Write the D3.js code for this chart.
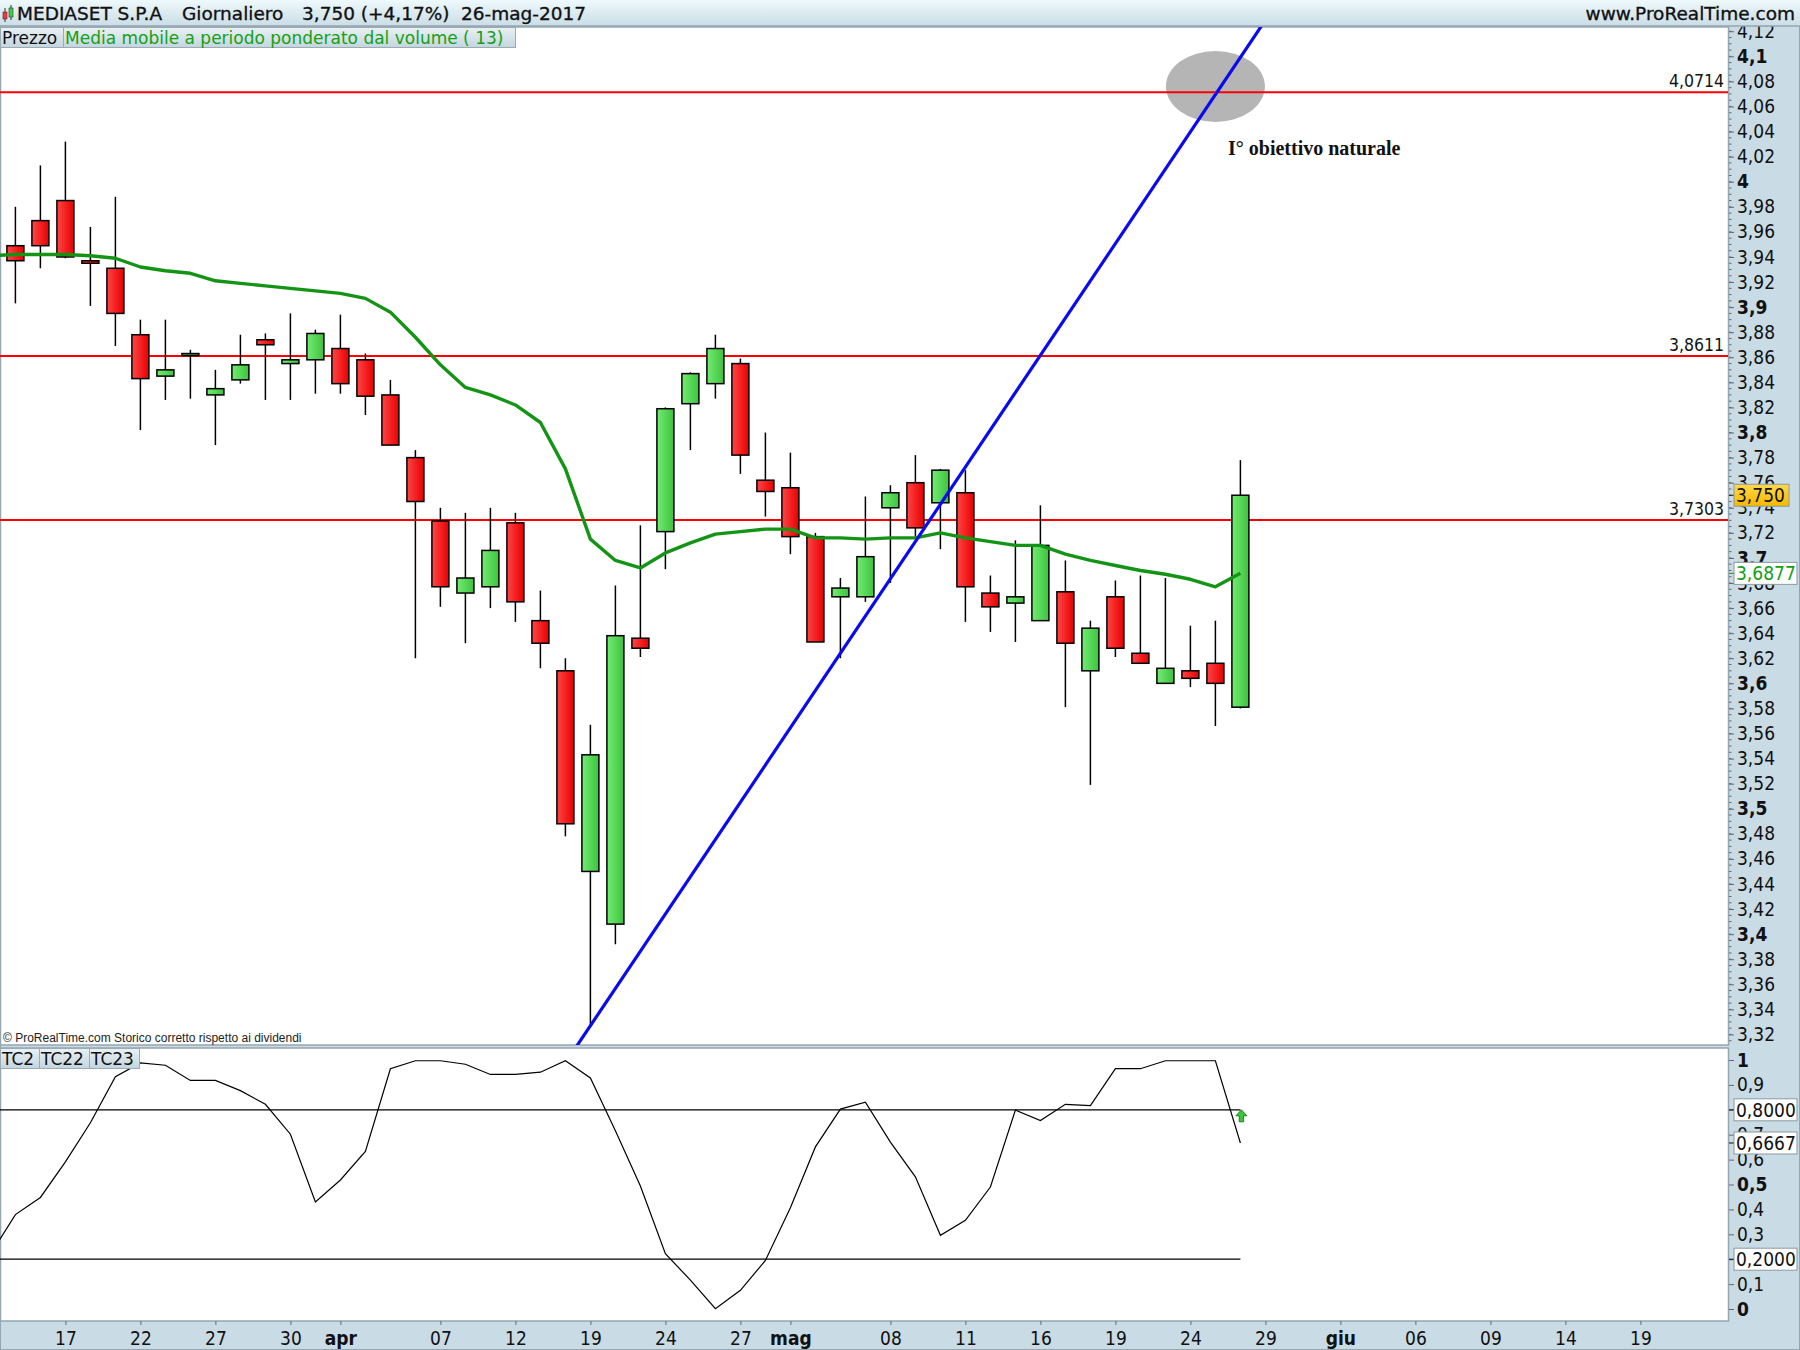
<!DOCTYPE html>
<html><head><meta charset="utf-8">
<script src="https://cdn.jsdelivr.net/npm/d3@7"></script>
<style>body{margin:0;background:#fff}svg{display:block}
.cf{font-family:"DejaVu Sans Condensed","DejaVu Sans",sans-serif;font-stretch:condensed}
.nf{font-family:"DejaVu Sans",sans-serif}
</style>
</head><body><svg id="c" width="1800" height="1350"></svg>
<script>
// ---------------- DATA ----------------
const dates = ["2017-03-14","2017-03-15","2017-03-16","2017-03-17","2017-03-20","2017-03-21","2017-03-22","2017-03-23","2017-03-24","2017-03-27","2017-03-28","2017-03-29","2017-03-30","2017-03-31",
"2017-04-03","2017-04-04","2017-04-05","2017-04-06","2017-04-07","2017-04-10","2017-04-11","2017-04-12","2017-04-13","2017-04-18","2017-04-19","2017-04-20","2017-04-21","2017-04-24","2017-04-25","2017-04-26","2017-04-27","2017-04-28",
"2017-05-02","2017-05-03","2017-05-04","2017-05-05","2017-05-08","2017-05-09","2017-05-10","2017-05-11","2017-05-12","2017-05-15","2017-05-16","2017-05-17","2017-05-18","2017-05-19","2017-05-22","2017-05-23","2017-05-24","2017-05-25","2017-05-26","2017-05-29","2017-05-30","2017-05-31",
"2017-06-01","2017-06-02","2017-06-05","2017-06-06","2017-06-07","2017-06-08","2017-06-09","2017-06-12","2017-06-13","2017-06-14","2017-06-15","2017-06-16","2017-06-19","2017-06-20","2017-06-21","2017-06-22"];
const barDates = dates.slice(1, 51); // 15 mar .. 26 mag
const open  = [3.949,3.969,3.985,3.937,3.931,3.878,3.845,3.862,3.830,3.842,3.874,3.855,3.858,3.867,3.858,3.830,3.780,3.7295,3.672,3.677,3.728,3.650,3.610,3.450,3.408,3.636,3.721,3.823,3.839,3.855,3.762,3.756,3.717,3.669,3.669,3.740,3.760,3.744,3.752,3.672,3.664,3.650,3.673,3.610,3.669,3.624,3.600,3.610,3.616,3.581];
const high  = [3.980,4.013,4.032,3.964,3.988,3.890,3.890,3.866,3.850,3.878,3.879,3.895,3.882,3.894,3.863,3.842,3.786,3.740,3.736,3.740,3.736,3.674,3.620,3.567,3.678,3.726,3.820,3.848,3.878,3.859,3.800,3.784,3.720,3.684,3.749,3.758,3.782,3.771,3.770,3.686,3.714,3.742,3.698,3.650,3.682,3.686,3.684,3.646,3.650,3.778];
const low   = [3.903,3.931,3.939,3.901,3.869,3.802,3.826,3.827,3.790,3.839,3.826,3.826,3.831,3.831,3.814,3.790,3.620,3.661,3.632,3.660,3.649,3.612,3.478,3.328,3.392,3.621,3.691,3.786,3.827,3.767,3.733,3.703,3.633,3.620,3.665,3.680,3.717,3.707,3.649,3.641,3.633,3.650,3.581,3.519,3.621,3.616,3.600,3.597,3.566,3.580];
const close = [3.937,3.949,3.940,3.935,3.895,3.843,3.850,3.863,3.835,3.854,3.870,3.858,3.879,3.839,3.829,3.790,3.745,3.677,3.684,3.706,3.665,3.632,3.488,3.543,3.638,3.628,3.819,3.847,3.867,3.782,3.753,3.717,3.633,3.676,3.701,3.752,3.724,3.770,3.677,3.661,3.669,3.710,3.632,3.644,3.628,3.616,3.612,3.604,3.600,3.750];
const lineDates = dates.slice(0, 51); // 14 mar .. 26 mag
const vwma = [3.941,3.942,3.942,3.942,3.941,3.939,3.932,3.929,3.927,3.921,3.919,3.917,3.915,3.913,3.911,3.907,3.896,3.876,3.854,3.836,3.830,3.822,3.808,3.771,3.715,3.698,3.692,3.704,3.712,3.719,3.721,3.723,3.723,3.716,3.716,3.715,3.716,3.716,3.720,3.716,3.713,3.710,3.710,3.703,3.698,3.694,3.690,3.687,3.683,3.677,3.6877];
const tc = [0.22,0.379,0.448,0.591,0.748,0.933,0.988,0.979,0.918,0.918,0.877,0.822,0.702,0.430,0.518,0.633,0.965,0.997,0.997,0.983,0.942,0.942,0.951,0.997,0.928,0.716,0.494,0.222,0.116,0.001,0.075,0.195,0.407,0.651,0.803,0.831,0.670,0.531,0.296,0.356,0.490,0.799,0.757,0.822,0.817,0.965,0.965,0.997,0.997,0.997,0.6667];
const levels = [4.0714, 3.8611, 3.7303];
const levelLabels = ["4,0714", "3,8611", "3,7303"];
const tcLevels = [0.8, 0.2];
const trendDates = ["2017-04-19", "2017-05-04"];
const trendPrices = [3.327, 3.624];
const targetDate = "2017-05-25", targetPrice = 4.076;
const priceTicks = [3.32,3.34,3.36,3.38,3.40,3.42,3.44,3.46,3.48,3.50,3.52,3.54,3.56,3.58,3.60,3.62,3.64,3.66,3.68,3.70,3.72,3.74,3.76,3.78,3.80,3.82,3.84,3.86,3.88,3.90,3.92,3.94,3.96,3.98,4.00,4.02,4.04,4.06,4.08,4.10,4.12];
const tcTicks = [0,0.1,0.2,0.3,0.4,0.5,0.6,0.7,0.8,0.9,1];
const xTickDates = ["2017-03-17","2017-03-22","2017-03-27","2017-03-30","2017-04-03","2017-04-07","2017-04-12","2017-04-19","2017-04-24","2017-04-27","2017-05-02","2017-05-08","2017-05-11","2017-05-16","2017-05-19","2017-05-24","2017-05-29","2017-06-01","2017-06-06","2017-06-09","2017-06-14","2017-06-19"];
const xTickLabels = ["17","22","27","30","apr","07","12","19","24","27","mag","08","11","16","19","24","29","giu","06","09","14","19"];
const monthLabels = ["apr","mag","giu"];

// ---------------- LAYOUT ----------------
const PR = 1728, MT = 27, MB = 1045, LT = 1048, LB = 1321;
const AXBG = "#c9dbe5", BORDER = "#95a6b0";
const svg = d3.select("#c");
const defs = svg.append("defs");
function grad(id, c1, c2, vertical) {
  const g = defs.append("linearGradient").attr("id", id)
    .attr("x1", 0).attr("y1", 0).attr("x2", vertical ? 0 : 1).attr("y2", vertical ? 1 : 0);
  g.append("stop").attr("offset", "0%").attr("stop-color", c1);
  g.append("stop").attr("offset", "100%").attr("stop-color", c2);
}
grad("gRed", "#ff4545", "#e80000");
grad("gGreen", "#72ec72", "#3ec23e");
grad("gHead", "#eef9fc", "#cadde6", true);
grad("gLeg", "#e9f1f5", "#c4d5de", true);
grad("gGold", "#ffd94a", "#f5b800", true);
defs.append("clipPath").attr("id", "clipMain").append("rect").attr("x", 0).attr("y", MT).attr("width", PR).attr("height", MB - MT);
defs.append("clipPath").attr("id", "clipLow").append("rect").attr("x", 0).attr("y", LT).attr("width", PR).attr("height", LB - LT);

const x = d3.scalePoint().domain(dates).range([-9.6, 1715.4]);
const y = d3.scaleLinear().domain([3.3116, 4.1234]).range([MB, MT]);
const yo = d3.scaleLinear().domain([0, 1]).range([1309, 1060]);
const fmt = v => (+v.toFixed(4)).toString().replace(".", ",");

// backgrounds
svg.append("rect").attr("width", 1800).attr("height", 1350).attr("fill", AXBG);
svg.append("rect").attr("x", 0).attr("y", MT).attr("width", PR).attr("height", MB - MT).attr("fill", "#fff");
svg.append("rect").attr("x", 0).attr("y", LT).attr("width", PR).attr("height", LB - LT).attr("fill", "#fff");
svg.append("rect").attr("x", 0.5).attr("y", MT).attr("width", PR).attr("height", MB - MT).attr("fill", "none").attr("stroke", BORDER).attr("stroke-width", 1.5);
svg.append("rect").attr("x", 0.5).attr("y", LT).attr("width", PR).attr("height", LB - LT).attr("fill", "none").attr("stroke", BORDER).attr("stroke-width", 1.5);
svg.append("rect").attr("x", 0.5).attr("y", 0.5).attr("width", 1799).attr("height", 1349).attr("fill", "none").attr("stroke", BORDER);

// ---------------- MAIN PANEL ----------------
const main = svg.append("g").attr("clip-path", "url(#clipMain)");
main.append("ellipse").attr("cx", x(targetDate)).attr("cy", y(targetPrice)).attr("rx", 49.5).attr("ry", 35.5).attr("fill", "#b5b5b5");
main.selectAll(".lvl").data(levels).join("line").attr("x1", 0).attr("x2", PR)
  .attr("y1", d => y(d)).attr("y2", d => y(d)).attr("stroke", "#ff0000").attr("stroke-width", 2);
main.selectAll(".lvlt").data(levels).join("text").attr("class", "cf")
  .attr("x", 1724).attr("y", d => y(d) - 5).attr("text-anchor", "end").attr("font-size", 17.5).attr("fill", "#111")
  .text((d, i) => levelLabels[i]);
const bars = barDates.map((d, i) => ({d, o: open[i], h: high[i], l: low[i], c: close[i]}));
main.selectAll(".wick").data(bars).join("line")
  .attr("x1", b => x(b.d)).attr("x2", b => x(b.d)).attr("y1", b => y(b.h)).attr("y2", b => y(b.l))
  .attr("stroke", "#000").attr("stroke-width", 1.5);
main.selectAll(".body").data(bars).join("rect")
  .attr("x", b => x(b.d) - 8.5).attr("width", 17)
  .attr("y", b => y(Math.max(b.o, b.c))).attr("height", b => Math.max(2, Math.abs(y(b.o) - y(b.c))))
  .attr("fill", b => b.c >= b.o ? "url(#gGreen)" : "url(#gRed)").attr("stroke", "#000").attr("stroke-width", 1.5);
main.append("path").datum(lineDates.map((d, i) => [d, vwma[i]]))
  .attr("d", d3.line().x(p => x(p[0])).y(p => y(p[1])))
  .attr("fill", "none").attr("stroke", "#149414").attr("stroke-width", 3.4).attr("stroke-linejoin", "round");
const i0 = dates.indexOf(trendDates[0]), i1 = dates.indexOf(trendDates[1]);
const slope = (trendPrices[1] - trendPrices[0]) / (i1 - i0);
const tStart = i0 - 2, tEnd = i0 + 30;
main.append("line")
  .attr("x1", x(dates[tStart])).attr("y1", y(trendPrices[0] + slope * (tStart - i0)))
  .attr("x2", x(dates[tEnd])).attr("y2", y(trendPrices[0] + slope * (tEnd - i0)))
  .attr("stroke", "#0a0aee").attr("stroke-width", 3.2);
main.append("text").attr("x", 1228).attr("y", 155)
  .attr("font-family", "'Liberation Serif','Times New Roman',serif").attr("font-weight", "bold").attr("font-size", 20).attr("fill", "#111")
  .text("I° obiettivo naturale");
svg.append("text").attr("x", 3).attr("y", 1042).attr("font-family", "'Liberation Sans',Arial,sans-serif").attr("font-size", 12).attr("fill", "#222")
  .text("© ProRealTime.com  Storico corretto rispetto ai dividendi");

// ---------------- LOWER PANEL ----------------
const low_ = svg.append("g").attr("clip-path", "url(#clipLow)");
const lastX = x(barDates[barDates.length - 1]);
low_.selectAll(".tl").data(tcLevels).join("line").attr("x1", 0).attr("x2", lastX)
  .attr("y1", d => yo(d)).attr("y2", d => yo(d)).attr("stroke", "#000").attr("stroke-width", 1.2);
low_.append("path").datum(lineDates.map((d, i) => [d, tc[i]]))
  .attr("d", d3.line().x(p => x(p[0])).y(p => yo(p[1])))
  .attr("fill", "none").attr("stroke", "#000").attr("stroke-width", 1.2);
const ax = lastX + 1, ay = yo(0.8) + 12;
low_.append("path").attr("d", `M${ax},${ay-12} L${ax+5.5},${ay-6} L${ax+2.2},${ay-6} L${ax+2.2},${ay} L${ax-2.2},${ay} L${ax-2.2},${ay-6} L${ax-5.5},${ay-6} Z`)
  .attr("fill", "#3cc43c").attr("stroke", "#0a6a0a").attr("stroke-width", 0.8);

// ---------------- AXES ----------------
const yAxis = svg.append("g").attr("transform", `translate(${PR + 1},0)`)
  .call(d3.axisRight(y).tickValues(priceTicks).tickSize(5).tickPadding(3).tickFormat(fmt));
const minor = d3.range(3.315, 4.125, 0.005);
svg.append("g").selectAll("line").data(minor).join("line").attr("x1", PR + 1).attr("x2", PR + 3.5)
  .attr("y1", d => y(d)).attr("y2", d => y(d)).attr("stroke", "#667").attr("stroke-width", 1);
const yoAxis = svg.append("g").attr("transform", `translate(${PR + 1},0)`)
  .call(d3.axisRight(yo).tickValues(tcTicks).tickSize(5).tickPadding(3).tickFormat(fmt));
const xAxis = svg.append("g").attr("transform", `translate(0,${LB})`)
  .call(d3.axisBottom(x).tickValues(xTickDates).tickSize(4).tickPadding(4).tickFormat((d, i) => xTickLabels[i]));
[yAxis, yoAxis, xAxis].forEach(g => {
  g.select(".domain").remove();
  g.selectAll(".tick line").attr("stroke", "#667");
  g.selectAll(".tick text").attr("class", "cf").attr("font-size", 19).attr("fill", "#111");
});
yAxis.selectAll(".tick text").attr("font-weight", d => Math.abs(d * 10 - Math.round(d * 10)) < 1e-6 ? "bold" : null);
yoAxis.selectAll(".tick text").attr("font-weight", d => (d === 0 || d === 0.5 || d === 1) ? "bold" : null);
xAxis.selectAll(".tick text").attr("font-weight", (d, i) => monthLabels.includes(xTickLabels[i]) ? "bold" : null).attr("dy", "0.85em");

function badge(yy, label, fill, color) {
  const g = svg.append("g");
  g.append("line").attr("x1", PR + 1).attr("x2", PR + 6).attr("y1", yy).attr("y2", yy).attr("stroke", color);
  g.append("rect").attr("x", 1734).attr("y", yy - 11).attr("width", label.length > 5 ? 63 : 55).attr("height", 22)
    .attr("fill", fill).attr("stroke", "#8a9aa2").attr("stroke-width", 1);
  g.append("text").attr("class", "cf").attr("x", 1736).attr("y", yy + 7).attr("font-size", 19).attr("fill", color).text(label);
}
badge(y(close[close.length - 1]), "3,750", "url(#gGold)", "#111");
badge(y(vwma[vwma.length - 1]), "3,6877", "#fff", "#12a012");
badge(yo(0.8), "0,8000", "#fff", "#111");
badge(yo(tc[tc.length - 1]), "0,6667", "#fff", "#111");
badge(yo(0.2), "0,2000", "#fff", "#111");

// ---------------- HEADER & LEGENDS ----------------
svg.append("rect").attr("x", 0).attr("y", 0).attr("width", 1800).attr("height", 26).attr("fill", "url(#gHead)");
svg.append("line").attr("x1", 0).attr("x2", 1800).attr("y1", 26).attr("y2", 26).attr("stroke", BORDER).attr("stroke-width", 1.5);
svg.append("line").attr("x1", 5).attr("x2", 5).attr("y1", 8).attr("y2", 22).attr("stroke", "#333");
svg.append("rect").attr("x", 3).attr("y", 12).attr("width", 4).attr("height", 7).attr("fill", "#f33").attr("stroke", "#333").attr("stroke-width", 0.6);
svg.append("line").attr("x1", 11).attr("x2", 11).attr("y1", 5).attr("y2", 20).attr("stroke", "#333");
svg.append("rect").attr("x", 9).attr("y", 8).attr("width", 4).attr("height", 9).attr("fill", "#4c4").attr("stroke", "#333").attr("stroke-width", 0.6);
const head = [["MEDIASET S.P.A", 17], ["Giornaliero", 182], ["3,750 (+4,17%)", 302], ["26-mag-2017", 461]];
svg.selectAll(".hd").data(head).join("text").attr("class", "nf").attr("x", d => d[1]).attr("y", 20)
  .attr("font-size", 18.5).attr("fill", "#111").attr("stroke", "#111").attr("stroke-width", 0.35).text(d => d[0]);
svg.append("text").attr("class", "nf").attr("x", 1795).attr("y", 20).attr("text-anchor", "end")
  .attr("font-size", 18.5).attr("fill", "#111").attr("stroke", "#111").attr("stroke-width", 0.35).text("www.ProRealTime.com");
function legend(x0, w, y0, label, color) {
  svg.append("rect").attr("x", x0 + 0.5).attr("y", y0 + 0.5).attr("width", w).attr("height", 20)
    .attr("fill", "url(#gLeg)").attr("stroke", "#9aabb4");
  svg.append("text").attr("class", "nf").attr("x", x0 + 2).attr("y", y0 + 16.5).attr("font-size", 17).attr("fill", color).text(label);
}
legend(0, 63, 27, "Prezzo", "#111");
legend(63, 452, 27, "Media mobile a periodo ponderato dal volume ( 13)", "#14a014");
legend(0, 39, 1048, "TC2", "#111");
legend(39, 50, 1048, "TC22", "#111");
legend(89, 50, 1048, "TC23", "#111");
</script></body></html>
